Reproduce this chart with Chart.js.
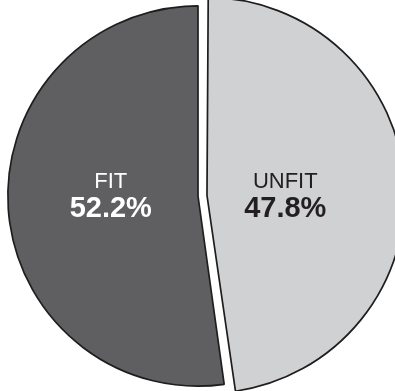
<!DOCTYPE html>
<html>
<head>
<meta charset="utf-8">
<script src="https://cdn.jsdelivr.net/npm/chart.js@4/dist/chart.umd.min.js"></script>
<style>
    html, body { margin: 0; padding: 0; background: #ffffff; }
    #wrap { position: relative; width: 395px; height: 391px; overflow: hidden; }
    /* canvas is a bit larger than the window so the exploded slice keeps the full radius */
    #fitChart { position: absolute; left: -11px; top: -13px; }
</style>
</head>
<body>
<div id="wrap"><canvas id="fitChart" width="418" height="418"></canvas></div>
<script>
// Pie data (drawn clockwise from 12 o'clock)
const categories = ['UNFIT', 'FIT'];
const percentages = [47.8, 52.2];
const sliceColors = ['#d0d1d3', '#5f5f61'];
const textColors = ['#231f20', '#ffffff'];

// Draws the two-line labels inside each slice
const sliceLabels = {
    id: 'sliceLabels',
    afterDatasetsDraw(chart) {
        const ctx = chart.ctx;
        const meta = chart.getDatasetMeta(0);
        const area = chart.chartArea;
        const cx = (area.left + area.right) / 2;
        const cy = (area.top + area.bottom) / 2;
        ctx.save();
        ctx.textAlign = 'center';
        ctx.textBaseline = 'alphabetic';
        meta.data.forEach((arc, i) => {
            const mid = (arc.startAngle + arc.endAngle) / 2;
            const x = cx + Math.cos(mid) * arc.outerRadius * 0.46;
            ctx.fillStyle = textColors[i];
            ctx.font = '22px "Liberation Sans", Arial, sans-serif';
            ctx.fillText(categories[i], x, cy - 8);
            ctx.font = 'bold 29px "Liberation Sans", Arial, sans-serif';
            ctx.fillText(percentages[i].toFixed(1) + '%', x, cy + 21);
        });
        ctx.restore();
    }
};

new Chart(document.getElementById('fitChart'), {
    type: 'pie',
    data: {
        labels: categories,
        datasets: [{
            data: percentages,
            backgroundColor: sliceColors,
            borderColor: '#1e1e1e',
            borderWidth: 1.7,
            offset: [36, 0] // chart.js moves the arc by offset / 4 -> ~9px
        }]
    },
    options: {
        responsive: false,
        animation: false,
        layout: { padding: 0 },
        plugins: {
            legend: { display: false },
            tooltip: { enabled: false }
        }
    },
    plugins: [sliceLabels]
});
</script>
</body>
</html>
